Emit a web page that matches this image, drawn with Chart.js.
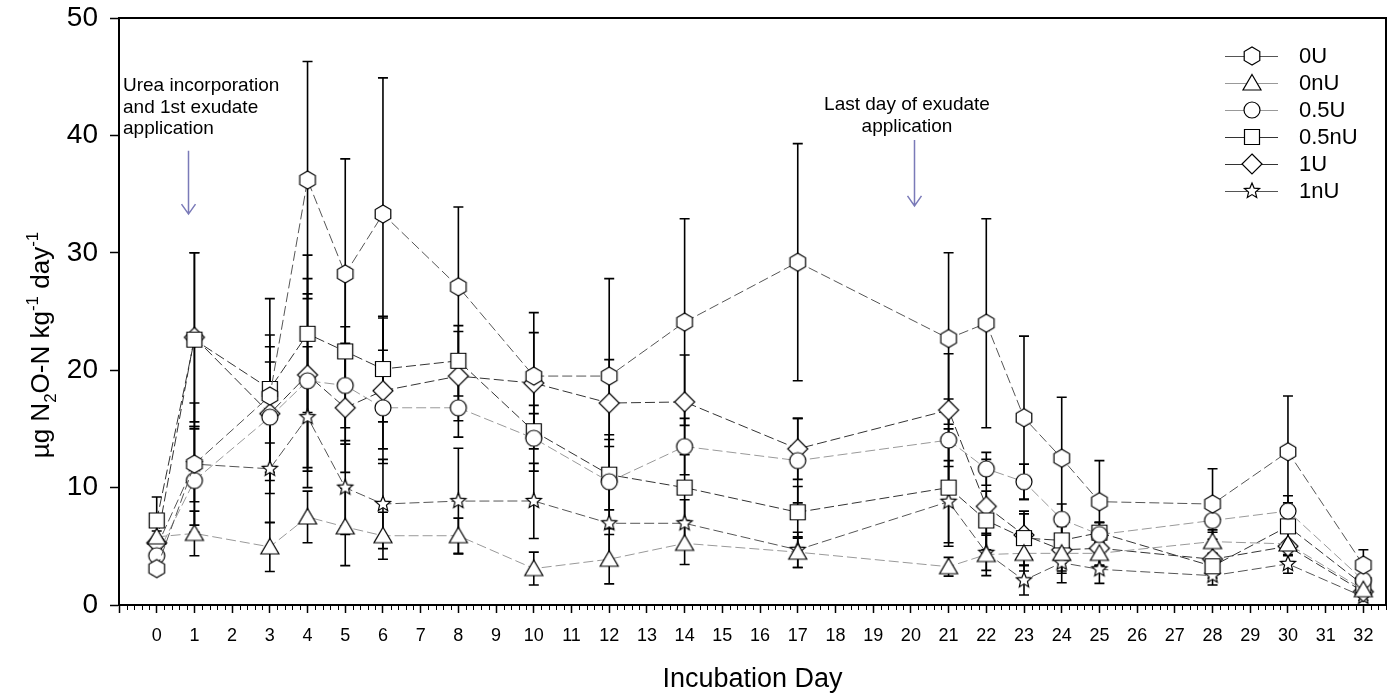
<!DOCTYPE html>
<html>
<head>
<meta charset="utf-8">
<script src="https://cdn.jsdelivr.net/npm/chart.js@4/dist/chart.umd.min.js"></script>
<style>
  body { margin: 0; background: #fff; }
  #wrap { width: 1395px; height: 698px; }
</style>
</head>
<body>
<div id="wrap"><canvas id="n2oChart" width="1395" height="698"></canvas></div>
<script>
// incubation days and treatment means / errors (ug N2O-N kg-1 day-1)
const days = [0, 1, 3, 4, 5, 6, 8, 10, 12, 14, 17, 21, 22, 23, 24, 25, 28, 30, 32];

const u0 = [3.1, 12.0, 17.8, 36.2, 28.2, 33.3, 27.1, 19.5, 19.5, 24.1, 29.2, 22.7, 24.0, 15.95, 12.5, 8.8, 8.6, 13.05, 3.4];
const u0Err = [0.5, 5.2, 8.3, 10.1, 9.8, 11.6, 6.8, 5.4, 8.3, 8.8, 10.1, 7.3, 8.9, 6.95, 5.2, 3.5, 3.0, 4.75, 1.3];

const nu0 = [5.8, 6.1, 4.95, 7.5, 6.65, 5.9, 5.9, 3.1, 3.9, 5.25, 4.5, 3.26, 4.3, 4.4, 4.4, 4.4, 5.4, 5.2, 1.3];
const nu0Err = [1.0, 1.9, 2.1, 2.2, 3.3, 2.0, 1.5, 1.4, 2.1, 1.8, 1.3, 0.8, 1.8, 1.5, 1.5, 1.0, 1.0, 1.0, 0.4];

const u05 = [4.2, 10.6, 16.0, 19.1, 18.7, 16.8, 16.8, 14.2, 10.5, 13.5, 12.3, 14.05, 11.6, 10.5, 7.3, 6.0, 7.2, 8.0, 2.1];
const u05Err = [0.8, 4.4, 4.7, 7.4, 5.0, 3.5, 2.5, 2.8, 4.0, 2.4, 3.6, 3.5, 1.4, 1.5, 1.3, 1.0, 1.0, 1.3, 0.5];

const nu05 = [7.2, 22.6, 18.4, 23.1, 21.6, 20.1, 20.8, 14.8, 11.1, 10.0, 7.9, 10.0, 7.2, 5.7, 5.5, 6.16, 3.3, 6.7, 1.7];
const nu05Err = [2.0, 7.4, 4.6, 6.7, 6.5, 4.5, 3.0, 1.5, 3.0, 2.8, 2.2, 5.0, 2.5, 2.3, 1.5, 0.9, 1.0, 2.0, 0.4];

const u1 = [5.3, 22.8, 16.3, 19.6, 16.8, 18.25, 19.5, 18.9, 17.2, 17.3, 13.3, 16.6, 8.4, 5.96, 4.7, 4.83, 3.9, 5.0, 1.13];
const u1Err = [1.0, 7.2, 5.7, 8.2, 5.5, 6.2, 3.8, 4.3, 3.7, 4.0, 2.6, 4.8, 4.0, 1.8, 2.0, 1.5, 1.2, 1.5, 0.3];

const nu1 = [4.95, 12.0, 11.6, 16.0, 10.0, 8.6, 8.85, 8.86, 6.96, 6.96, 4.7, 8.8, 4.45, 2.1, 3.6, 3.04, 2.5, 3.5, 0.7];
const nu1Err = [0.8, 3.2, 4.6, 6.0, 4.0, 3.8, 4.5, 3.2, 3.5, 2.0, 1.5, 3.5, 1.5, 1.25, 1.7, 1.2, 0.8, 0.8, 0.3];

const seriesNames = ['0U', '0nU', '0.5U', '0.5nU', '1U', '1nU'];

const FONT = '"Liberation Sans", Arial, sans-serif';
const NARROW = '"Liberation Sans Narrow", "Liberation Sans", Arial, sans-serif';

// open markers, white fill with black outline
function makeMarker(shape) {
  const c = document.createElement('canvas');
  c.width = 24;
  c.height = 24;
  const g = c.getContext('2d');
  g.translate(12, 12);
  g.beginPath();
  if (shape === 'hexagon') {
    for (let k = 0; k < 6; k++) {
      const a = Math.PI / 2 + k * Math.PI / 3;
      g.lineTo(9 * Math.cos(a), 9 * Math.sin(a));
    }
    g.closePath();
  } else if (shape === 'triangle') {
    g.moveTo(0, -8.5);
    g.lineTo(9, 7);
    g.lineTo(-9, 7);
    g.closePath();
  } else if (shape === 'circle') {
    g.arc(0, 0, 8, 0, Math.PI * 2);
  } else if (shape === 'square') {
    g.rect(-7.5, -7.5, 15, 15);
  } else if (shape === 'diamond') {
    g.moveTo(0, -10);
    g.lineTo(10, 0);
    g.lineTo(0, 10);
    g.lineTo(-10, 0);
    g.closePath();
  } else if (shape === 'star') {
    for (let k = 0; k < 10; k++) {
      const r = k % 2 === 0 ? 8 : 3.6;
      const a = -Math.PI / 2 + k * Math.PI / 5;
      g.lineTo(r * Math.cos(a), r * Math.sin(a));
    }
    g.closePath();
  }
  g.fillStyle = '#fff';
  g.fill();
  g.strokeStyle = '#000';
  g.lineWidth = 1.2;
  g.stroke();
  return c;
}

const markers = ['hexagon', 'triangle', 'circle', 'square', 'diamond', 'star'].map(makeMarker);
const lineColors = ['#555', '#999', '#999', '#333', '#333', '#555'];
const means = [u0, nu0, u05, nu05, u1, nu1];
const errs = [u0Err, nu0Err, u05Err, nu05Err, u1Err, nu1Err];

function toPoints(vals) {
  return days.map((d, i) => ({ x: d, y: vals[i] }));
}

const datasets = seriesNames.map((name, i) => ({
  label: name,
  data: toPoints(means[i]),
  errors: errs[i],
  borderColor: lineColors[i],
  borderWidth: 1,
  borderDash: [10, 4],
  pointStyle: markers[i],
  pointRadius: 8,
  tension: 0,
  fill: false
}));

// vertical error bars behind the markers
const errorBars = {
  id: 'errorBars',
  beforeDatasetsDraw(chart) {
    const ctx = chart.ctx;
    const y = chart.scales.y;
    ctx.save();
    ctx.strokeStyle = '#000';
    ctx.lineWidth = 1.6;
    chart.data.datasets.forEach((ds, i) => {
      const meta = chart.getDatasetMeta(i);
      meta.data.forEach((pt, j) => {
        const v = ds.data[j].y;
        const e = ds.errors[j];
        const top = y.getPixelForValue(v + e);
        const bot = y.getPixelForValue(v - e);
        ctx.beginPath();
        ctx.moveTo(pt.x, top);
        ctx.lineTo(pt.x, bot);
        ctx.moveTo(pt.x - 5, top);
        ctx.lineTo(pt.x + 5, top);
        ctx.moveTo(pt.x - 5, bot);
        ctx.lineTo(pt.x + 5, bot);
        ctx.stroke();
      });
    });
    ctx.restore();
  }
};

// frame, minor ticks, y title, legend and the two notes
const decorations = {
  id: 'decorations',
  afterDraw(chart) {
    const ctx = chart.ctx;
    const area = chart.chartArea;
    const xs = chart.scales.x;
    const ys = chart.scales.y;
    ctx.save();

    // top and right frame
    ctx.strokeStyle = '#000';
    ctx.lineWidth = 2;
    ctx.beginPath();
    ctx.moveTo(area.left, area.top);
    ctx.lineTo(area.right, area.top);
    ctx.lineTo(area.right, area.bottom);
    ctx.stroke();

    // minor x ticks every 0.2 day
    ctx.lineWidth = 1;
    ctx.beginPath();
    for (let k = -5; k <= 163; k++) {
      if (k % 5 === 0) continue;
      const px = Math.round(xs.getPixelForValue(k / 5)) + 0.5;
      ctx.moveTo(px, area.bottom);
      ctx.lineTo(px, area.bottom + 5);
    }
    ctx.stroke();

    // y axis title with sub- and superscripts
    const parts = [
      { t: '\u00b5g N', s: 0 },
      { t: '2', s: 1 },
      { t: 'O-N kg', s: 0 },
      { t: '-1', s: -1 },
      { t: ' day', s: 0 },
      { t: '-1', s: -1 }
    ];
    const big = '26px ' + FONT;
    const small = '17px ' + FONT;
    let total = 0;
    parts.forEach(p => {
      ctx.font = p.s ? small : big;
      p.w = ctx.measureText(p.t).width;
      total += p.w;
    });
    ctx.translate(42, 345);
    ctx.rotate(-Math.PI / 2);
    ctx.fillStyle = '#000';
    ctx.textBaseline = 'middle';
    ctx.textAlign = 'left';
    let cx = -total / 2;
    parts.forEach(p => {
      ctx.font = p.s ? small : big;
      ctx.fillText(p.t, cx, p.s * 9);
      cx += p.w;
    });
    ctx.setTransform(1, 0, 0, 1, 0, 0);

    // legend
    ctx.textBaseline = 'middle';
    ctx.textAlign = 'left';
    ctx.font = '22px ' + FONT;
    chart.data.datasets.forEach((ds, i) => {
      const ly = 56 + i * 27;
      ctx.strokeStyle = ds.borderColor;
      ctx.lineWidth = 1;
      ctx.beginPath();
      ctx.moveTo(1225, ly + 0.5);
      ctx.lineTo(1278, ly + 0.5);
      ctx.stroke();
      ctx.drawImage(ds.pointStyle, 1252 - 12, ly - 12);
      ctx.fillStyle = '#000';
      ctx.fillText(ds.label, 1299, ly + 1);
    });

    // notes
    ctx.font = '19px ' + FONT;
    ctx.fillStyle = '#000';
    ctx.textAlign = 'left';
    ['Urea incorporation', 'and 1st exudate', 'application'].forEach((s, k) => {
      ctx.fillText(s, 123, 86 + k * 21.5);
    });
    ctx.textAlign = 'center';
    ['Last day of exudate', 'application'].forEach((s, k) => {
      ctx.fillText(s, 907, 105 + k * 21.5);
    });

    // arrows
    function arrow(day, from, to) {
      const ax = Math.round(xs.getPixelForValue(day)) + 0.5;
      const y1 = ys.getPixelForValue(from);
      const y2 = ys.getPixelForValue(to);
      ctx.strokeStyle = '#7a7ab8';
      ctx.lineWidth = 1.5;
      ctx.beginPath();
      ctx.moveTo(ax, y1);
      ctx.lineTo(ax, y2);
      ctx.moveTo(ax - 7, y2 - 10);
      ctx.lineTo(ax, y2);
      ctx.lineTo(ax + 7, y2 - 10);
      ctx.stroke();
    }
    arrow(0.82, 38.7, 33.3);
    arrow(20.07, 39.6, 34.0);

    ctx.restore();
  }
};

new Chart(document.getElementById('n2oChart'), {
  type: 'line',
  data: { datasets: datasets },
  options: {
    responsive: false,
    animation: false,
    layout: { padding: { top: 18, right: 9, left: 0, bottom: 0 } },
    scales: {
      x: {
        type: 'linear',
        min: -1,
        max: 32.6,
        afterFit: s => { s.height = 93; s.paddingLeft = 0; s.paddingRight = 0; },
        afterBuildTicks: s => {
          const t = [];
          for (let v = -1; v <= 32; v++) t.push({ value: v });
          s.ticks = t;
        },
        ticks: {
          stepSize: 1,
          autoSkip: false,
          maxRotation: 0,
          padding: 12,
          color: '#000',
          font: { size: 18, family: NARROW },
          callback: v => (v >= 0 ? v : '')
        },
        grid: { drawOnChartArea: false, tickLength: 8, tickColor: '#000', tickWidth: 1.5 },
        border: { color: '#000', width: 2 },
        title: {
          display: true,
          text: 'Incubation Day',
          color: '#000',
          font: { size: 27, family: FONT },
          padding: { top: 0, bottom: 2 }
        }
      },
      y: {
        min: 0,
        max: 50,
        afterFit: s => { s.width = 119; s.paddingTop = 0; s.paddingBottom = 0; },
        ticks: {
          stepSize: 10,
          padding: 12,
          color: '#000',
          font: { size: 28, family: FONT }
        },
        grid: { drawOnChartArea: false, tickLength: 9, tickColor: '#000', tickWidth: 1.5 },
        border: { color: '#000', width: 2 }
      }
    },
    plugins: {
      legend: { display: false },
      tooltip: { enabled: false }
    }
  },
  plugins: [errorBars, decorations]
});
</script>
</body>
</html>
